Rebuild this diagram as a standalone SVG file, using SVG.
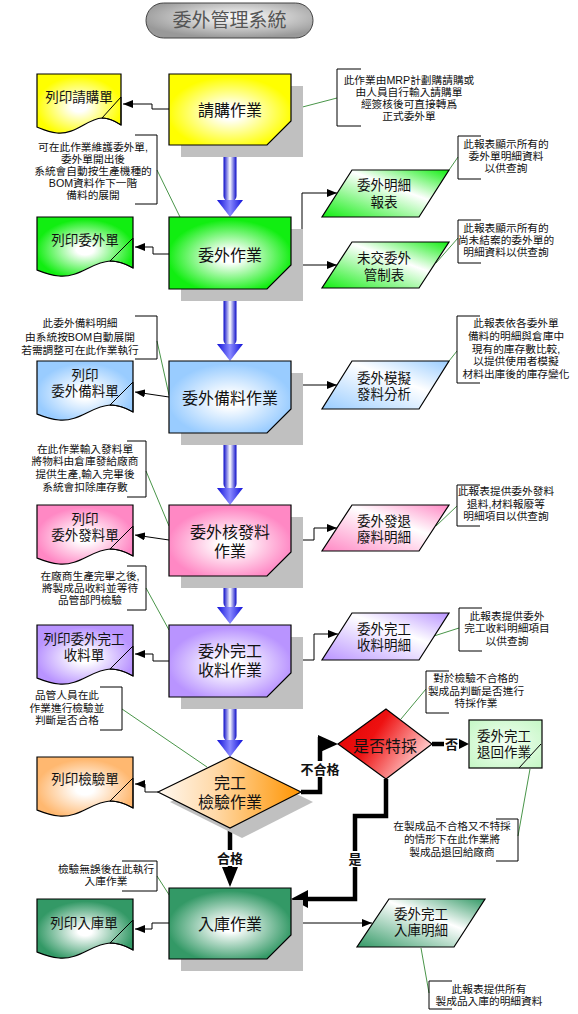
<svg xmlns="http://www.w3.org/2000/svg" width="578" height="1014" viewBox="0 0 578 1014">
<style>
text{font-family:"Liberation Sans","Noto Sans CJK TC",sans-serif;text-anchor:middle;fill:#111}
.t16{font-size:16px}
.t14{font-size:13.5px}
.t11{font-size:10.7px}
.lbl{font-size:13px;font-weight:bold}
.ttl{font-size:19px;fill:#555}
.sh{fill:#c0c0c0}
.bx{stroke:#000;stroke-width:1.2}
.ln{fill:none;stroke:#000;stroke-width:1}
.br{fill:none;stroke:#000;stroke-width:1}
.ld{fill:none;stroke:#1a7a1a;stroke-width:0.8}
.con{fill:none;stroke:#000;stroke-width:1}
.thk{fill:none;stroke:#000;stroke-width:4.5}
.hd{fill:#000}
</style>
<defs>
<marker id="ar" markerUnits="userSpaceOnUse" markerWidth="10" markerHeight="8" refX="10" refY="4" orient="auto"><path d="M0,0 L10,4 L0,8 Z" fill="#000"/></marker>
<radialGradient id="ttlG" cx="0.55" cy="0.4" r="0.6"><stop offset="0" stop-color="#fff"/><stop offset="1" stop-color="#999"/></radialGradient>
<linearGradient id="tube" x1="0" y1="0" x2="1" y2="0"><stop offset="0" stop-color="#0a0ac8"/><stop offset="0.5" stop-color="#fff"/><stop offset="1" stop-color="#0a0ac8"/></linearGradient>
<linearGradient id="head" x1="0" y1="0" x2="1" y2="0"><stop offset="0" stop-color="#1010d8"/><stop offset="0.5" stop-color="#8888ff"/><stop offset="1" stop-color="#1010d8"/></linearGradient>
<radialGradient id="rY" cx="0.5" cy="0.55" r="0.6"><stop offset="0" stop-color="#fff"/><stop offset="0.15" stop-color="#fff"/><stop offset="0.85" stop-color="#ffff00"/></radialGradient>
<radialGradient id="rG" cx="0.5" cy="0.55" r="0.6"><stop offset="0" stop-color="#fff"/><stop offset="0.15" stop-color="#fff"/><stop offset="0.85" stop-color="#11ee11"/></radialGradient>
<radialGradient id="rB" cx="0.5" cy="0.55" r="0.6"><stop offset="0" stop-color="#fff"/><stop offset="0.15" stop-color="#fff"/><stop offset="0.85" stop-color="#99ccff"/></radialGradient>
<radialGradient id="rP" cx="0.5" cy="0.55" r="0.6"><stop offset="0" stop-color="#fff"/><stop offset="0.15" stop-color="#fff"/><stop offset="0.85" stop-color="#ff88c4"/></radialGradient>
<radialGradient id="rV" cx="0.5" cy="0.55" r="0.6"><stop offset="0" stop-color="#fff"/><stop offset="0.15" stop-color="#fff"/><stop offset="0.85" stop-color="#b994ff"/></radialGradient>
<radialGradient id="rO" cx="0.5" cy="0.55" r="0.6"><stop offset="0" stop-color="#fff"/><stop offset="0.15" stop-color="#fff"/><stop offset="0.85" stop-color="#ffb870"/></radialGradient>
<radialGradient id="rD" cx="0.5" cy="0.55" r="0.6"><stop offset="0" stop-color="#fff"/><stop offset="0.12" stop-color="#fff"/><stop offset="0.85" stop-color="#339966"/></radialGradient>
<radialGradient id="rL" cx="0.5" cy="0.5" r="0.7"><stop offset="0" stop-color="#f4fff4"/><stop offset="1" stop-color="#c4f7c4"/></radialGradient>
<linearGradient id="cY" x1="0" y1="0" x2="1" y2="1"><stop offset="0" stop-color="#fff"/><stop offset="1" stop-color="#ffff00"/></linearGradient>
<linearGradient id="cG" x1="0" y1="0" x2="1" y2="1"><stop offset="0" stop-color="#fff"/><stop offset="1" stop-color="#11ee11"/></linearGradient>
<linearGradient id="cB" x1="0" y1="0" x2="1" y2="1"><stop offset="0" stop-color="#fff"/><stop offset="1" stop-color="#99ccff"/></linearGradient>
<linearGradient id="cP" x1="0" y1="0" x2="1" y2="1"><stop offset="0" stop-color="#fff"/><stop offset="1" stop-color="#ff88c4"/></linearGradient>
<linearGradient id="cV" x1="0" y1="0" x2="1" y2="1"><stop offset="0" stop-color="#fff"/><stop offset="1" stop-color="#b994ff"/></linearGradient>
<linearGradient id="cO" x1="0" y1="0" x2="1" y2="1"><stop offset="0" stop-color="#fff"/><stop offset="1" stop-color="#ffb870"/></linearGradient>
<linearGradient id="cD" x1="0" y1="0" x2="1" y2="1"><stop offset="0" stop-color="#fff"/><stop offset="1" stop-color="#339966"/></linearGradient>
<linearGradient id="pG" x1="0" y1="1" x2="1" y2="0"><stop offset="0" stop-color="#11ee11"/><stop offset="0.6" stop-color="#fff"/><stop offset="1" stop-color="#11ee11"/></linearGradient>
<linearGradient id="pB" x1="0" y1="1" x2="1" y2="0"><stop offset="0" stop-color="#99ccff"/><stop offset="0.6" stop-color="#fff"/><stop offset="1" stop-color="#99ccff"/></linearGradient>
<linearGradient id="pP" x1="0" y1="1" x2="1" y2="0"><stop offset="0" stop-color="#ff88c4"/><stop offset="0.6" stop-color="#fff"/><stop offset="1" stop-color="#ff88c4"/></linearGradient>
<linearGradient id="pV" x1="0" y1="1" x2="1" y2="0"><stop offset="0" stop-color="#b994ff"/><stop offset="0.6" stop-color="#fff"/><stop offset="1" stop-color="#b994ff"/></linearGradient>
<linearGradient id="pD" x1="0" y1="1" x2="1" y2="0"><stop offset="0" stop-color="#339966"/><stop offset="0.6" stop-color="#fff"/><stop offset="1" stop-color="#339966"/></linearGradient>
<linearGradient id="gOr" x1="0" y1="0" x2="1" y2="0"><stop offset="0" stop-color="#fff8f0"/><stop offset="0.4" stop-color="#ffd9a8"/><stop offset="1" stop-color="#ff9400"/></linearGradient>
<linearGradient id="gRd" x1="0" y1="0" x2="1" y2="0.5"><stop offset="0" stop-color="#dd0000"/><stop offset="0.45" stop-color="#ee1111"/><stop offset="1" stop-color="#ffcccc"/></linearGradient>
<path id="doc" d="M0,0 H96 V51 C89,47 81,44 73,44 C55,45 42,61 22,59 C12,58 5,55 0,53 Z"/>
<path id="curl" d="M96,21 L73,44 C81,44 89,47 96,51 Z"/>
<path id="docS" d="M0,0 H84 V51 C78,47 71,44 65,44 C50,45 38,61 20,59 C11,58 5,55 0,53 Z"/>
<path id="curlS" d="M84,23 L65,44 C71,44 78,47 84,51 Z"/>
</defs>

<g id="title">
<rect x="146" y="3" width="167" height="35" rx="17.5" fill="url(#ttlG)" stroke="#444" stroke-width="1"/>
<text class="ttl" x="229.5" y="27">委外管理系統</text>
</g>

<g id="connectors">
<g id="blue-arrows">
<rect x="223.5" y="146" width="13" height="56" rx="6" fill="url(#tube)"/><polygon points="217,200 243,200 230,217" fill="url(#head)"/>
<rect x="223.5" y="290" width="13" height="56" rx="6" fill="url(#tube)"/><polygon points="217,344 243,344 230,361" fill="url(#head)"/>
<rect x="223.5" y="434" width="13" height="56" rx="6" fill="url(#tube)"/><polygon points="217,488 243,488 230,505" fill="url(#head)"/>
<rect x="223.5" y="577" width="13" height="32" rx="6" fill="url(#tube)"/><polygon points="217,607 243,607 230,624" fill="url(#head)"/>
<rect x="223.5" y="698" width="13" height="44" rx="6" fill="url(#tube)"/><polygon points="217,740 243,740 230,757" fill="url(#head)"/>
</g>
<g id="print-links">
<path class="con" d="M169,109 H152 V104 H123" marker-end="url(#ar)"/>
<path class="con" d="M169,254 H153 V247 H135" marker-end="url(#ar)"/>
<path class="con" d="M169,397 L135,392" marker-end="url(#ar)"/>
<path class="con" d="M169,540 L135,535" marker-end="url(#ar)"/>
<path class="con" d="M169,661 H153 V654 H135" marker-end="url(#ar)"/>
<path class="con" d="M158,792 H145 V784 H135" marker-end="url(#ar)"/>
<path class="con" d="M169,923 H152 V929 H135" marker-end="url(#ar)"/>
</g>
<g id="report-links">
<path class="con" d="M291,256 H302 V193 H337" marker-end="url(#ar)"/>
<path class="con" d="M302,256 V265 H337" marker-end="url(#ar)"/>
<path class="con" d="M291,397 H302 V385 H337" marker-end="url(#ar)"/>
<path class="con" d="M291,540 H314 V528 H337" marker-end="url(#ar)"/>
<path class="con" d="M291,660 H314 V634 H338" marker-end="url(#ar)"/>
<path class="con" d="M291,923 H372" marker-end="url(#ar)"/>
</g>
<g id="decision-links">
<path class="thk" d="M301,792 H320 V737"/>
<polygon class="hd" points="318,735 338,744 318,753"/>
<rect x="299" y="761" width="42" height="16" fill="#fff"/>
<text class="lbl" x="320" y="774">不合格</text>
<path class="thk" d="M432,744 H462"/>
<polygon class="hd" points="459,739 469,744 459,749"/>
<rect x="444" y="736" width="15" height="16" fill="#fff"/>
<text class="lbl" x="451.5" y="749">否</text>
<path class="thk" d="M386,779 V816 H355 V899 H306"/>
<polygon class="hd" points="308,890 291,899 308,908"/>
<rect x="347" y="851" width="16" height="16" fill="#fff"/>
<text class="lbl" x="355" y="864">是</text>
<path class="thk" d="M230,828 V869"/>
<polygon class="hd" points="222,867 238,867 230,887"/>
<rect x="215" y="850" width="30" height="16" fill="#fff"/>
<text class="lbl" x="230" y="863">合格</text>
</g>
<g id="leaders">
<path class="ld" d="M291,110 L337,98"/>
<path class="ld" d="M157,170 L180,217"/>
<path class="ld" d="M449,170 L458,157"/>
<path class="ld" d="M436,263 L458,238"/>
<path class="ld" d="M157,341 L169,395"/>
<path class="ld" d="M449,361 L457,351"/>
<path class="ld" d="M146,471 L169,526"/>
<path class="ld" d="M436,526 L457,506"/>
<path class="ld" d="M146,588 L169,630"/>
<path class="ld" d="M434,636 L459,628"/>
<path class="ld" d="M122,709 L207,767"/>
<path class="ld" d="M426,689 L401,719"/>
<path class="ld" d="M518,836 L530,769"/>
<path class="ld" d="M157,876 L175,904"/>
<path class="ld" d="M421,948 L429,993"/>
</g>
</g>

<g id="req">
<rect class="sh" x="181" y="86" width="122" height="71"/>
<path class="bx" d="M169,74 H291 V121 L267,145 H169 Z" fill="url(#rY)"/>
<text class="t16" x="230" y="116">請購作業</text>
</g>
<g id="print-req" transform="translate(37,74)">
<use href="#docS" fill="url(#rY)" class="bx"/>
<use href="#curlS" fill="url(#cY)" class="ln"/>
<text class="t14" x="42" y="28">列印請購單</text>
</g>
<g id="note-req">
<path class="br" d="M361,69 H337 V126 H361"/>
<text class="t11"><tspan x="409" y="84">此作業由MRP計劃購請購或</tspan><tspan x="409" y="96">由人員自行輸入請購單</tspan><tspan x="409" y="108">經簽核後可直接轉爲</tspan><tspan x="409" y="120">正式委外單</tspan></text>
</g>
<g id="note-work">
<path class="br" d="M135,135 H157 V204 H135"/>
<text class="t11"><tspan x="93" y="151">可在此作業維護委外單,</tspan><tspan x="93" y="163">委外單開出後</tspan><tspan x="93" y="175">系統會自動按生產機種的</tspan><tspan x="93" y="187">BOM資料作下一階</tspan><tspan x="93" y="199">備料的展開</tspan></text>
</g>

<g id="work">
<rect class="sh" x="181" y="229" width="122" height="72"/>
<path class="bx" d="M169,217 H291 V265 L267,289 H169 Z" fill="url(#rG)"/>
<text class="t16" x="230" y="261">委外作業</text>
</g>
<g id="print-work" transform="translate(37,217)">
<use href="#doc" fill="url(#rG)" class="bx"/>
<use href="#curl" fill="url(#cG)" class="ln"/>
<text class="t14" x="48" y="28">列印委外單</text>
</g>
<g id="rpt-detail">
<polygon class="bx" points="352,170 449,170 419,217 322,217" fill="url(#pG)"/>
<text class="t14"><tspan x="384" y="190">委外明細</tspan><tspan x="384" y="207">報表</tspan></text>
</g>
<g id="note-detail">
<path class="br" d="M481,136 H458 V179 H481"/>
<text class="t11"><tspan x="506" y="148">此報表顯示所有的</tspan><tspan x="506" y="160">委外單明細資料</tspan><tspan x="506" y="172">以供查詢</tspan></text>
</g>
<g id="rpt-open">
<polygon class="bx" points="352,242 449,242 419,288 322,288" fill="url(#pG)"/>
<text class="t14"><tspan x="384" y="263">未交委外</tspan><tspan x="384" y="280">管制表</tspan></text>
</g>
<g id="note-open">
<path class="br" d="M481,220 H458 V263 H481"/>
<text class="t11"><tspan x="506" y="232">此報表顯示所有的</tspan><tspan x="506" y="244">尚未結案的委外單的</tspan><tspan x="506" y="256">明細資料以供查詢</tspan></text>
</g>

<g id="prep">
<rect class="sh" x="181" y="373" width="122" height="72"/>
<path class="bx" d="M169,361 H291 V409 L267,433 H169 Z" fill="url(#rB)"/>
<text class="t16" x="230" y="404">委外備料作業</text>
</g>
<g id="print-prep" transform="translate(37,361)">
<use href="#doc" fill="url(#rB)" class="bx"/>
<use href="#curl" fill="url(#cB)" class="ln"/>
<text class="t14"><tspan x="48" y="19">列印</tspan><tspan x="48" y="35">委外備料單</tspan></text>
</g>
<g id="note-prep">
<path class="br" d="M135,316 H157 V359 H135"/>
<text class="t11"><tspan x="80" y="327">此委外備料明細</tspan><tspan x="80" y="341">由系統按BOM自動展開</tspan><tspan x="80" y="354">若需調整可在此作業執行</tspan></text>
</g>
<g id="rpt-sim">
<polygon class="bx" points="352,361 449,361 419,409 322,409" fill="url(#pB)"/>
<text class="t14"><tspan x="384" y="383">委外模擬</tspan><tspan x="384" y="399">發料分析</tspan></text>
</g>
<g id="note-sim">
<path class="br" d="M480,316 H457 V383 H480"/>
<text class="t11"><tspan x="516" y="327">此報表依各委外單</tspan><tspan x="516" y="340">備料的明細與倉庫中</tspan><tspan x="516" y="353">現有的庫存數比較,</tspan><tspan x="516" y="365">以提供使用者模擬</tspan><tspan x="516" y="378">材料出庫後的庫存變化</tspan></text>
</g>

<g id="issue">
<rect class="sh" x="181" y="517" width="122" height="71"/>
<path class="bx" d="M169,505 H291 V552 L267,576 H169 Z" fill="url(#rP)"/>
<text class="t16"><tspan x="230" y="538">委外核發料</tspan><tspan x="230" y="557">作業</tspan></text>
</g>
<g id="print-issue" transform="translate(37,505)">
<use href="#doc" fill="url(#rP)" class="bx"/>
<use href="#curl" fill="url(#cP)" class="ln"/>
<text class="t14"><tspan x="48" y="19">列印</tspan><tspan x="48" y="35">委外發料單</tspan></text>
</g>
<g id="note-issue">
<path class="br" d="M127,441 H146 V497 H127"/>
<text class="t11"><tspan x="85" y="453">在此作業輸入發料單</tspan><tspan x="85" y="465">將物料由倉庫發給廠商</tspan><tspan x="85" y="478">提供生產,輸入完畢後</tspan><tspan x="85" y="491">系統會扣除庫存數</tspan></text>
</g>
<g id="rpt-scrap">
<polygon class="bx" points="352,505 449,505 419,551 322,551" fill="url(#pP)"/>
<text class="t14"><tspan x="384" y="526">委外發退</tspan><tspan x="384" y="542">廢料明細</tspan></text>
</g>
<g id="note-scrap">
<path class="br" d="M480,485 H457 V526 H480"/>
<text class="t11"><tspan x="506" y="495">此報表提供委外發料</tspan><tspan x="506" y="508">退料,材料報廢等</tspan><tspan x="506" y="520">明細項目以供查詢</tspan></text>
</g>

<g id="receive">
<rect class="sh" x="181" y="637" width="122" height="72"/>
<path class="bx" d="M169,625 H291 V673 L267,697 H169 Z" fill="url(#rV)"/>
<text class="t16"><tspan x="230" y="657">委外完工</tspan><tspan x="230" y="676">收料作業</tspan></text>
</g>
<g id="print-receive" transform="translate(37,625)">
<use href="#doc" fill="url(#rV)" class="bx"/>
<use href="#curl" fill="url(#cV)" class="ln"/>
<text class="t14"><tspan x="47" y="19">列印委外完工</tspan><tspan x="47" y="35">收料單</tspan></text>
</g>
<g id="note-receive">
<path class="br" d="M127,566 H146 V610 H127"/>
<text class="t11"><tspan x="90" y="580">在廠商生產完畢之後,</tspan><tspan x="90" y="592">將製成品收料並等待</tspan><tspan x="90" y="604">品管部門檢驗</tspan></text>
</g>
<g id="rpt-receive">
<polygon class="bx" points="352,613 449,613 419,660 322,660" fill="url(#pV)"/>
<text class="t14"><tspan x="384" y="634">委外完工</tspan><tspan x="384" y="650">收料明細</tspan></text>
</g>
<g id="note-rpt-receive">
<path class="br" d="M482,608 H459 V651 H482"/>
<text class="t11"><tspan x="507" y="620">此報表提供委外</tspan><tspan x="507" y="632">完工收料明細項目</tspan><tspan x="507" y="645">以供查詢</tspan></text>
</g>

<g id="inspect">
<polygon class="sh" points="170,802 242,767 313,802 242,838"/>
<polygon class="bx" points="158,792 230,757 301,792 230,828" fill="url(#gOr)"/>
<text class="t16"><tspan x="230" y="789">完工</tspan><tspan x="230" y="808">檢驗作業</tspan></text>
</g>
<g id="print-inspect" transform="translate(37,757)">
<use href="#doc" fill="url(#rO)" class="bx"/>
<use href="#curl" fill="url(#cO)" class="ln"/>
<text class="t14" x="48" y="27">列印檢驗單</text>
</g>
<g id="note-inspect">
<path class="br" d="M100,687 H122 V730 H100"/>
<text class="t11"><tspan x="67" y="699">品管人員在此</tspan><tspan x="67" y="712">作業進行檢驗並</tspan><tspan x="67" y="724">判斷是否合格</tspan></text>
</g>

<g id="special">
<polygon class="bx" points="338,744 386,709 432,744 386,779" fill="url(#gRd)"/>
<text class="t16" x="385" y="752">是否特採</text>
</g>
<g id="note-special">
<path class="br" d="M449,671 H426 V713 H449"/>
<text class="t11"><tspan x="476" y="682">對於檢驗不合格的</tspan><tspan x="476" y="695">製成品判斷是否進行</tspan><tspan x="476" y="707">特採作業</tspan></text>
</g>
<g id="return">
<rect class="bx" x="469" y="720" width="73" height="48" fill="url(#rL)"/>
<path class="ln" d="M541,744 L519,768"/>
<text class="t14"><tspan x="504" y="741">委外完工</tspan><tspan x="504" y="757">退回作業</tspan></text>
</g>
<g id="note-return">
<path class="br" d="M496,819 H518 V861 H496"/>
<text class="t11"><tspan x="452" y="830">在製成品不合格又不特採</tspan><tspan x="452" y="843">的情形下在此作業將</tspan><tspan x="452" y="856">製成品退回給廠商</tspan></text>
</g>

<g id="store">
<rect class="sh" x="181" y="900" width="122" height="71"/>
<path class="bx" d="M169,888 H291 V935 L267,959 H169 Z" fill="url(#rD)"/>
<text class="t16" x="230" y="930">入庫作業</text>
</g>
<g id="print-store" transform="translate(37,899)">
<use href="#doc" fill="url(#rD)" class="bx"/>
<use href="#curl" fill="url(#cD)" class="ln"/>
<text class="t14" x="47" y="29">列印入庫單</text>
</g>
<g id="note-store">
<path class="br" d="M122,861 H157 V891 H122"/>
<text class="t11"><tspan x="106" y="873">檢驗無誤後在此執行</tspan><tspan x="106" y="885">入庫作業</tspan></text>
</g>
<g id="rpt-store">
<polygon class="bx" points="389,899 485,899 454,947 357,947" fill="url(#pD)"/>
<text class="t14"><tspan x="421" y="919">委外完工</tspan><tspan x="421" y="935">入庫明細</tspan></text>
</g>
<g id="note-rpt-store">
<path class="br" d="M452,981 H429 V1009 H452"/>
<text class="t11"><tspan x="489" y="993">此報表提供所有</tspan><tspan x="489" y="1005">製成品入庫的明細資料</tspan></text>
</g>
</svg>
